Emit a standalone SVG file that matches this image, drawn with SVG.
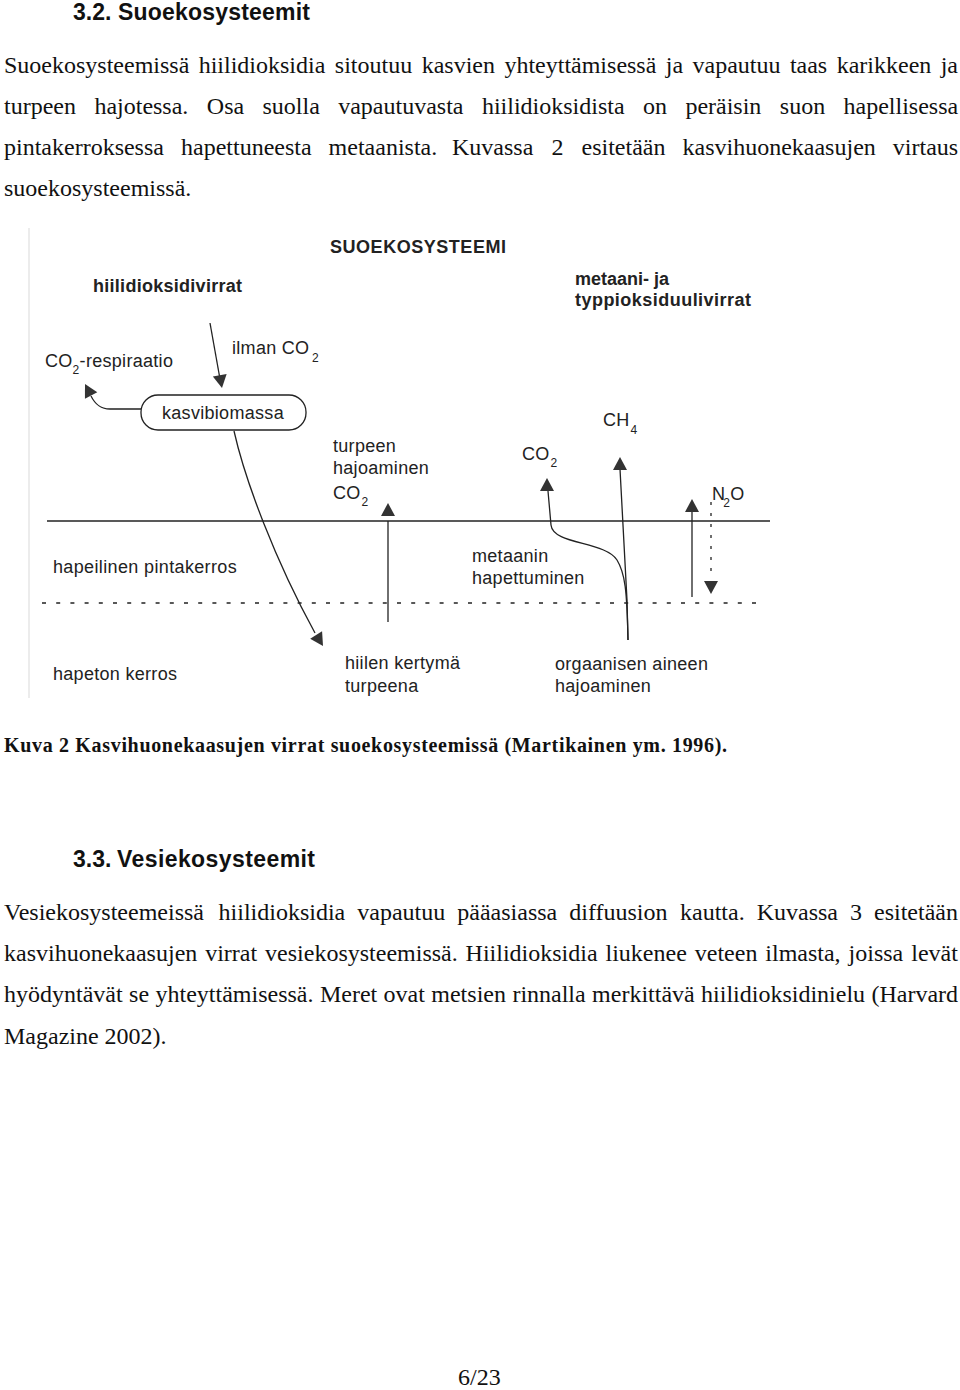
<svg xmlns="http://www.w3.org/2000/svg" width="960" height="1390" viewBox="0 0 960 1390">
<style>
.h{font-family:"Liberation Sans",Arial,sans-serif;font-weight:bold;font-size:23px;fill:#111}
.b{font-family:"Liberation Serif","Times New Roman",serif;font-size:24px;fill:#111}
.cap{font-family:"Liberation Serif","Times New Roman",serif;font-weight:bold;font-size:20px;fill:#111}
.l{font-family:"Liberation Sans",Arial,sans-serif;font-size:18px;fill:#222;letter-spacing:0.3px}
.lb{font-family:"Liberation Sans",Arial,sans-serif;font-size:18px;font-weight:bold;fill:#222}
.sub{font-size:12px}
.ln{fill:none;stroke:#222;stroke-width:1.3}
.ah{fill:#333}
</style>
<defs><path id="tri" d="M0,0 L7,13 L-7,13 Z"/></defs>
<rect width="960" height="1390" fill="#fff"/>

<g id="text-top">
<text class="h" x="73" y="20">3.2.<tspan x="118" textLength="192">Suoekosysteemit</tspan></text>
<text class="b" y="73"><tspan x="4">Suoekosysteemissä</tspan><tspan x="198.7">hiilidioksidia</tspan><tspan x="334.8">sitoutuu</tspan><tspan x="421.7">kasvien</tspan><tspan x="504.4">yhteyttämisessä</tspan><tspan x="665.8">ja</tspan><tspan x="692.5">vapautuu</tspan><tspan x="789.9">taas</tspan><tspan x="836.7">karikkeen</tspan><tspan x="940.7">ja</tspan></text>
<text class="b" y="114"><tspan x="4">turpeen</tspan><tspan x="94.4">hajotessa.</tspan><tspan x="206.8">Osa</tspan><tspan x="262.5">suolla</tspan><tspan x="338.2">vapautuvasta</tspan><tspan x="481.9">hiilidioksidista</tspan><tspan x="643">on</tspan><tspan x="685.4">peräisin</tspan><tspan x="779.8">suon</tspan><tspan x="843.5">hapellisessa</tspan></text>
<text class="b" y="155"><tspan x="4">pintakerroksessa</tspan><tspan x="181">hapettuneesta</tspan><tspan x="328.6">metaanista.</tspan><tspan x="452">Kuvassa</tspan><tspan x="551.5">2</tspan><tspan x="581.5">esitetään</tspan><tspan x="682.5">kasvihuonekaasujen</tspan><tspan x="892.8">virtaus</tspan></text>
<text class="b" x="4" y="196">suoekosysteemissä.</text>
</g>

<line x1="29" y1="228" x2="29" y2="698" stroke="#e6e6e6" stroke-width="1.5"/>

<g id="layers">
<path d="M47,521 L770,521" stroke="#222" stroke-width="1.5" fill="none"/>
<path d="M42,603 L762,603" stroke="#222" stroke-width="1.6" stroke-dasharray="4,10.2" fill="none"/>
</g>

<g id="labels">
<g id="title-suoekosysteemi"><text class="lb" x="330" y="253" textLength="176">SUOEKOSYSTEEMI</text></g>
<g id="label-hiilidioksidivirrat"><text class="lb" x="93" y="292" textLength="149">hiilidioksidivirrat</text></g>
<g id="label-metaani"><text class="lb" x="575" y="285">metaani- ja</text><text class="lb" x="575" y="306" textLength="176">typpioksiduulivirrat</text></g>
<g id="label-respiraatio"><text class="l" x="45" y="367">CO<tspan class="sub" dy="7">2</tspan><tspan dy="-7">-respiraatio</tspan></text></g>
<g id="label-ilman"><text class="l" x="232" y="354">ilman CO<tspan class="sub" x="312" dy="8">2</tspan></text></g>
<g id="label-turpeen"><text class="l" x="333" y="452">turpeen</text><text class="l" x="333" y="474">hajoaminen</text><text class="l" x="333" y="499">CO<tspan class="sub" dx="1" dy="7">2</tspan></text></g>
<g id="label-co2"><text class="l" x="522" y="460">CO<tspan class="sub" dx="1" dy="7">2</tspan></text></g>
<g id="label-ch4"><text class="l" x="603" y="426">CH<tspan class="sub" dx="1" dy="8">4</tspan></text></g>
<g id="label-n2o"><text class="l" x="712" y="500">N<tspan class="sub" dx="-2" dy="7">2</tspan><tspan dy="-7">O</tspan></text></g>
<g id="label-hapeilinen"><text class="l" x="53" y="573" textLength="184">hapeilinen pintakerros</text></g>
<g id="label-metaanin"><text class="l" x="472" y="562">metaanin</text><text class="l" x="472" y="584">hapettuminen</text></g>
<g id="label-hapeton"><text class="l" x="53" y="680">hapeton kerros</text></g>
<g id="label-hiilen"><text class="l" x="345" y="669">hiilen kertymä</text><text class="l" x="345" y="692">turpeena</text></g>
<g id="label-orgaanisen"><text class="l" x="555" y="670">orgaanisen aineen</text><text class="l" x="555" y="692">hajoaminen</text></g>
</g>

<g id="node-kasvibiomassa">
<rect x="141" y="395" width="165" height="35" rx="17" fill="none" stroke="#222" stroke-width="1.3"/>
<text class="l" x="162" y="419">kasvibiomassa</text>
</g>

<g id="connectors">
<path class="ln" d="M210,323 L220,379"/>
<use href="#tri" class="ah" transform="translate(222,388) rotate(170)"/>
<path class="ln" d="M141,409 L110,409 C100,409 95,404 91,396"/>
<use href="#tri" class="ah" transform="translate(85,384) rotate(-28)"/>
<path class="ln" d="M234,431 C245,480 275,560 315,633"/>
<use href="#tri" class="ah" transform="translate(323,646) rotate(148)"/>
<path class="ln" d="M388,521 L388,622"/>
<use href="#tri" class="ah" transform="translate(388,503)"/>
<path class="ln" d="M548,491 L551,525 C553,545 605,541 617,560 C625,573 627,590 628,640"/>
<use href="#tri" class="ah" transform="translate(547,478)"/>
<path class="ln" d="M620,469 L627,600 L628,640"/>
<use href="#tri" class="ah" transform="translate(620,457)"/>
<path class="ln" d="M692,512 L692,597"/>
<use href="#tri" class="ah" transform="translate(692,499)"/>
<path class="ln" d="M711,502 L711,572" stroke-dasharray="3,8"/>
<use href="#tri" class="ah" transform="translate(711,594) rotate(180)"/>
</g>

<g id="text-bottom">
<text class="cap" x="4" y="752" textLength="723">Kuva 2 Kasvihuonekaasujen virrat suoekosysteemissä (Martikainen ym. 1996).</text>
<text class="h" x="73" y="867">3.3.<tspan x="117" textLength="198">Vesiekosysteemit</tspan></text>
<text class="b" y="920"><tspan x="4">Vesiekosysteemeissä</tspan><tspan x="218.6">hiilidioksidia</tspan><tspan x="357.3">vapautuu</tspan><tspan x="457.3">pääasiassa</tspan><tspan x="569.3">diffuusion</tspan><tspan x="680">kautta.</tspan><tspan x="756.7">Kuvassa</tspan><tspan x="850">3</tspan><tspan x="874">esitetään</tspan></text>
<text class="b" y="961"><tspan x="4">kasvihuonekaasujen</tspan><tspan x="205.2">virrat</tspan><tspan x="265.1">vesiekosysteemissä.</tspan><tspan x="465.6">Hiilidioksidia</tspan><tspan x="605.5">liukenee</tspan><tspan x="694.8">veteen</tspan><tspan x="765.3">ilmasta,</tspan><tspan x="848.6">joissa</tspan><tspan x="911.3">levät</tspan></text>
<text class="b" y="1002"><tspan x="4">hyödyntävät</tspan><tspan x="129.1">se</tspan><tspan x="155.5">yhteyttämisessä.</tspan><tspan x="319.9">Meret</tspan><tspan x="383.6">ovat</tspan><tspan x="431.3">metsien</tspan><tspan x="512.4">rinnalla</tspan><tspan x="592.1">merkittävä</tspan><tspan x="701.1">hiilidioksidinielu</tspan><tspan x="871.5">(Harvard</tspan></text>
<text class="b" x="4" y="1044">Magazine 2002).</text>
<text class="b" x="458" y="1385" font-size="23">6/23</text>
</g>
</svg>
